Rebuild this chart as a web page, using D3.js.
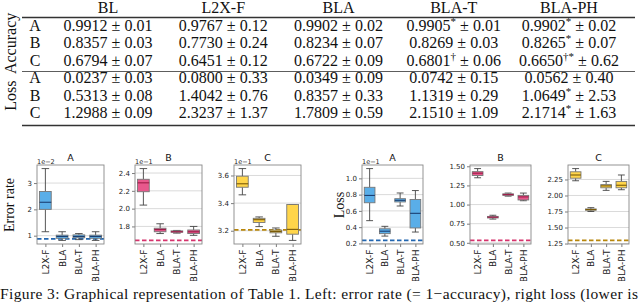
<!DOCTYPE html>
<html><head><meta charset="utf-8">
<script src="https://cdn.jsdelivr.net/npm/d3@7"></script>
<style>body{margin:0;background:#fff}svg{display:block}</style>
</head><body><svg id="c" width="640" height="303"></svg>
<script>
// ---------------- table data ----------------
const methods = ["BL","L2X-F","BLA","BLA-T","BLA-PH"];
const groups = ["Accuracy","Loss"];
const datasets = ["A","B","C"];
const accMean = [["0.9912","0.9767","0.9902","0.9905","0.9902"],
                 ["0.8357","0.7730","0.8234","0.8269","0.8265"],
                 ["0.6794","0.6451","0.6722","0.6801","0.6650"]];
const accMark = [["","","","*","*"],["","","","","*"],["","","","\u2020","\u2020*"]];
const accSd   = [["0.01","0.12","0.02","0.01","0.02"],
                 ["0.03","0.24","0.07","0.03","0.07"],
                 ["0.07","0.12","0.09","0.06","0.62"]];
const lossMean = [["0.0237","0.0800","0.0349","0.0742","0.0562"],
                  ["0.5313","1.4042","0.8357","1.1319","1.0649"],
                  ["1.2988","2.3237","1.7809","2.1510","2.1714"]];
const lossMark = [["","","","",""],["","","","","*"],["","","","","*"]];
const lossSd   = [["0.03","0.33","0.09","0.15","0.40"],
                  ["0.08","0.76","0.33","0.29","2.53"],
                  ["0.09","1.37","0.59","1.09","1.63"]];

// ---------------- box plot data: [whiskerLow, Q1, median, Q3, whiskerHigh] ----------------
const boxMethods = ["L2X-F","BLA","BLA-T","BLA-PH"];
const errAStats = [[1.15,2.00,2.27,2.68,3.55],[0.82,0.90,0.97,1.02,1.15],[0.85,0.92,0.97,1.03,1.08],[0.82,0.90,0.97,1.02,1.15]];
const errBStats = [[2.04,2.19,2.29,2.33,2.45],[1.72,1.74,1.765,1.78,1.83],[1.725,1.735,1.74,1.75,1.755],[1.70,1.72,1.74,1.76,1.80]];
const errCStats = [[3.46,3.515,3.54,3.595,3.65],[3.23,3.26,3.28,3.29,3.30],[3.16,3.185,3.195,3.205,3.22],[3.13,3.175,3.21,3.39,3.39]];
const lossAStats = [[0.48,0.70,0.79,0.89,1.12],[0.29,0.32,0.35,0.38,0.41],[0.66,0.71,0.73,0.75,0.82],[0.34,0.39,0.57,0.74,0.85]];
const lossBStats = [[1.35,1.38,1.41,1.43,1.47],[0.81,0.825,0.835,0.845,0.86],[1.11,1.12,1.13,1.14,1.15],[1.05,1.06,1.10,1.12,1.15]];
const lossCStats = [[2.23,2.27,2.32,2.37,2.42],[1.75,1.77,1.78,1.79,1.81],[2.08,2.12,2.15,2.17,2.22],[2.09,2.12,2.16,2.22,2.32]];
const baselines = [0.88, 1.643, 3.206, 0.237, 0.5313, 1.2988]; // BL reference (dashed)
const errATicks = [1,2,3], errBTicks = [1.8,2.0,2.2,2.4], errCTicks = [3.2,3.4,3.6];
const lossATicks = [0.2,0.4,0.6,0.8,1.0], lossBTicks = [0.5,0.75,1.0,1.25,1.5], lossCTicks = [1.25,1.5,1.75,2.0,2.25];
const tickFormats = [".0f",".1f",".1f",".1f",".2f",".2f"];
const offsets = ["1e\u22122","1e\u22121","1e\u22121","1e\u22121","",""];
const panelTitles = ["A","B","C","A","B","C"];
const fills = ["#5aaee8","#e8588c","#ffd54a"];
const dashCols = ["#2266b0","#d6336c","#b8860b"];
const medCols = ["#1b3f73","#9c1c48","#7a5a06"];
const caption = "Figure 3:  Graphical representation of Table 1. Left: error rate (= 1\u2212accuracy), right loss (lower is";

const svg = d3.select("#c");
svg.append("rect").attr("width",640).attr("height",303).attr("fill","#fff");
const serif = "'Liberation Serif','Times New Roman',serif";
const sans = "'DejaVu Sans',sans-serif";
svg.append("defs").append("clipPath").attr("id","figclip").append("rect")
  .attr("x",0).attr("y",140).attr("width",640).attr("height",141);

// ---------------- table ----------------
const colX = d3.scalePoint().domain(methods).range([108,569]);
const rowY = d3.scalePoint().domain(d3.range(6)).range([31,118]);
const T = svg.append("g").attr("font-family",serif).attr("font-size",16).attr("fill","#111");
methods.forEach(m => T.append("text").attr("x",colX(m)).attr("y",13).attr("text-anchor","middle").text(m));
const ruleY = [17.5, 71.5, 125.5];
ruleY.forEach((yy,i) => T.append("line").attr("x1",22).attr("x2",635).attr("y1",yy).attr("y2",yy)
  .attr("stroke","#333").attr("stroke-width", i===1?0.8:1.3));
groups.forEach((gname,gi) => {
  const yc = (rowY(gi*3)+rowY(gi*3+2))/2 - 5;
  T.append("text").attr("transform",`translate(16,${yc}) rotate(-90)`).attr("text-anchor","middle").text(gname);
  const means = gi===0?accMean:lossMean, marks = gi===0?accMark:lossMark, sds = gi===0?accSd:lossSd;
  datasets.forEach((d,di) => {
    const yy = rowY(gi*3+di);
    T.append("text").attr("x",35).attr("y",yy).attr("text-anchor","middle").text(d);
    methods.forEach((m,mi) => {
      const t = T.append("text").attr("x",colX(m)).attr("y",yy).attr("text-anchor","middle");
      t.append("tspan").text(means[di][mi]);
      if (marks[di][mi]) t.append("tspan").attr("font-size",11).attr("dy",-6).text(marks[di][mi]);
      t.append("tspan").attr("dy", marks[di][mi]?6:0).text(" \u00b1 " + sds[di][mi]);
    });
  });
});

// ---------------- box plot panels ----------------
const panelStats = [errAStats, errBStats, errCStats, lossAStats, lossBStats, lossCStats];
const panelTicks = [errATicks, errBTicks, errCTicks, lossATicks, lossBTicks, lossCTicks];
const lefts = [37, 135, 234, 362, 470, 568];
const widths = [67, 67, 67, 61, 61, 61];
const pTop = 165, pBottom = 244;
const FIG = svg.append("g").attr("clip-path","url(#figclip)");

panelStats.forEach((stats, p) => {
  const x0 = lefts[p], w = widths[p], ci = p % 3;
  const vals = stats.flat().concat([baselines[p]]);
  const lo = d3.min(vals), hi = d3.max(vals), pad = (hi-lo)*0.05;
  const y = d3.scaleLinear().domain([lo-pad, hi+pad]).range([pBottom, pTop]);
  const x = d3.scalePoint().domain(boxMethods).range([x0, x0+w]).padding(0.5);
  const step = x.step();
  const g = FIG.append("g");
  g.selectAll(".grid").data(panelTicks[p]).join("line")
    .attr("x1",x0).attr("x2",x0+w).attr("y1",d=>y(d)).attr("y2",d=>y(d))
    .attr("stroke","#d0d0d0").attr("stroke-width",0.8);
  const ya = d3.axisLeft(y).tickValues(panelTicks[p]).tickFormat(d3.format(tickFormats[p])).tickSize(3).tickPadding(2);
  const yg = g.append("g").attr("transform",`translate(${x0},0)`).call(ya);
  yg.select(".domain").remove();
  yg.selectAll("text").attr("font-family",sans).attr("font-size",7).attr("fill","#222");
  yg.selectAll("line").attr("stroke","#444").attr("stroke-width",0.7);
  const xa = d3.axisBottom(x).tickSize(3).tickPadding(2);
  const xg = g.append("g").attr("transform",`translate(0,${pBottom})`).call(xa);
  xg.select(".domain").remove();
  xg.selectAll("line").attr("stroke","#444").attr("stroke-width",0.7);
  xg.selectAll("text").attr("font-family",sans).attr("font-size",9).attr("fill","#222")
    .attr("text-anchor","end").attr("dy",null).attr("y",0)
    .attr("transform","translate(0,5.5) rotate(-90)").attr("dominant-baseline","central");
  g.append("line").attr("x1",x0).attr("x2",x0+w).attr("y1",y(baselines[p])).attr("y2",y(baselines[p]))
    .attr("stroke",dashCols[ci]).attr("stroke-width",1.9).attr("stroke-dasharray","4.5,2.5");
  const bw = step*0.7, cw = step*0.45;
  stats.forEach((s,i) => {
    const cx = x(boxMethods[i]);
    const bg = g.append("g");
    bg.append("line").attr("x1",cx).attr("x2",cx).attr("y1",y(s[0])).attr("y2",y(s[1])).attr("stroke","#444").attr("stroke-width",0.9);
    bg.append("line").attr("x1",cx).attr("x2",cx).attr("y1",y(s[3])).attr("y2",y(s[4])).attr("stroke","#444").attr("stroke-width",0.9);
    [s[0],s[4]].forEach(v => bg.append("line").attr("x1",cx-cw/2).attr("x2",cx+cw/2).attr("y1",y(v)).attr("y2",y(v)).attr("stroke","#444").attr("stroke-width",0.9));
    bg.append("rect").attr("x",cx-bw/2).attr("width",bw).attr("y",y(s[3])).attr("height",Math.max(0.5,y(s[1])-y(s[3])))
      .attr("fill",fills[ci]).attr("stroke","#777").attr("stroke-width",0.9);
    bg.append("line").attr("x1",cx-bw/2).attr("x2",cx+bw/2).attr("y1",y(s[2])).attr("y2",y(s[2])).attr("stroke",medCols[ci]).attr("stroke-width",1.1);
  });
  g.append("rect").attr("x",x0).attr("y",pTop).attr("width",w).attr("height",pBottom-pTop)
    .attr("fill","none").attr("stroke","#888").attr("stroke-width",0.9);
  g.append("text").attr("x",x0+w/2).attr("y",pTop-4).attr("text-anchor","middle")
    .attr("font-family",sans).attr("font-size",9.5).attr("fill","#111").text(panelTitles[p]);
  if (offsets[p]) g.append("text").attr("x",x0).attr("y",pTop-1.5).attr("font-family",sans).attr("font-size",6.5).attr("fill","#222").text(offsets[p]);
});
svg.append("text").attr("transform","translate(14,205) rotate(-90)").attr("text-anchor","middle")
  .attr("font-family",serif).attr("font-size",14).attr("fill","#111").text("Error rate");
svg.append("text").attr("transform","translate(344,205) rotate(-90)").attr("text-anchor","middle")
  .attr("font-family",serif).attr("font-size",14).attr("fill","#111").text("Loss");
svg.append("text").attr("x",0).attr("y",299).attr("font-family",serif).attr("font-size",15.5).attr("fill","#111")
  .attr("textLength",638).attr("lengthAdjust","spacing").text(caption);
</script></body></html>
